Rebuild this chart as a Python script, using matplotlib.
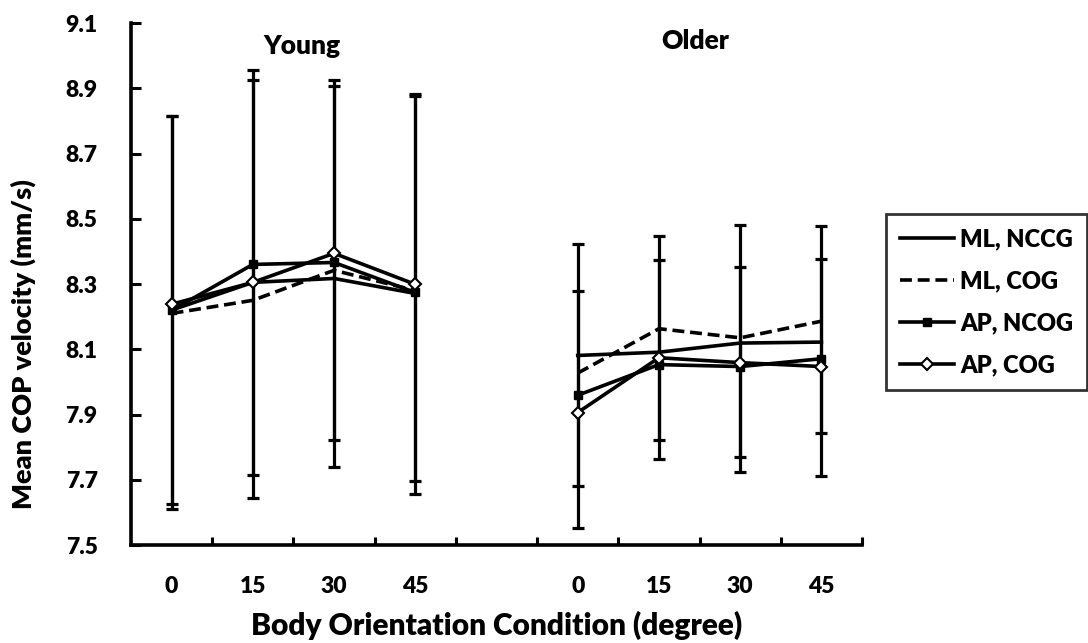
import numpy as np
import matplotlib
matplotlib.use('Agg')
import matplotlib.pyplot as plt
from matplotlib.ticker import FixedLocator, NullFormatter

plt.rcParams['font.family'] = ['Lato', 'DejaVu Sans']
plt.rcParams['font.weight'] = 'bold'
plt.rcParams['axes.labelweight'] = 'bold'

# category slots: young 0-3, gap at 4, older 5-8
angles = ['0', '15', '30', '45']
young_x = np.array([0, 1, 2, 3])
older_x = np.array([5, 6, 7, 8])

# mean COP velocity (mm/s)
ml_ncog_young = np.array([8.22, 8.305, 8.317, 8.271])
ml_cog_young = np.array([8.21, 8.250, 8.342, 8.280])
ap_ncog_young = np.array([8.219, 8.360, 8.366, 8.274])
ap_cog_young = np.array([8.238, 8.305, 8.394, 8.299])

ml_ncog_older = np.array([8.081, 8.091, 8.119, 8.122])
ml_cog_older = np.array([8.027, 8.163, 8.135, 8.186])
ap_ncog_older = np.array([7.959, 8.053, 8.047, 8.071])
ap_cog_older = np.array([7.906, 8.074, 8.059, 8.047])

# error bar ends (mean +/- SD)
ap_ncog_young_hi = np.array([8.815, 8.956, 8.925, 8.881])
ap_ncog_young_lo = np.array([7.609, 7.645, 7.738, 7.655])
ap_cog_young_hi = np.array([8.815, 8.925, 8.907, 8.876])
ap_cog_young_lo = np.array([7.625, 7.716, 7.821, 7.696])

ap_ncog_older_hi = np.array([8.424, 8.448, 8.482, 8.479])
ap_ncog_older_lo = np.array([7.553, 7.764, 7.724, 7.713])
ap_cog_older_hi = np.array([8.278, 8.374, 8.353, 8.377])
ap_cog_older_lo = np.array([7.680, 7.821, 7.770, 7.842])

fig = plt.figure(figsize=(10.88, 6.43), dpi=100)
ax = fig.add_axes([0.1204, 0.1524, 0.6719, 0.8118])

lw = 2.6
err_kw = dict(fmt='none', ecolor='black', elinewidth=2.3, capsize=4, capthick=2.3, zorder=1)

for xs, vals, hi, lo in [(young_x, ap_ncog_young, ap_ncog_young_hi, ap_ncog_young_lo),
                         (young_x, ap_cog_young, ap_cog_young_hi, ap_cog_young_lo),
                         (older_x, ap_ncog_older, ap_ncog_older_hi, ap_ncog_older_lo),
                         (older_x, ap_cog_older, ap_cog_older_hi, ap_cog_older_lo)]:
    ax.errorbar(xs, vals, yerr=[vals - lo, hi - vals], **err_kw)

styles = [
    ('ML, NCCG', ml_ncog_young, ml_ncog_older, dict(ls='-', marker=None)),
    ('ML, COG', ml_cog_young, ml_cog_older, dict(ls=(0, (3.3, 1.6)), marker=None)),
    ('AP, NCOG', ap_ncog_young, ap_ncog_older,
     dict(ls='-', marker='s', ms=6, mfc='black', mec='black')),
    ('AP, COG', ap_cog_young, ap_cog_older,
     dict(ls='-', marker='D', ms=6.5, mfc='white', mec='black', mew=1.5)),
]
for label, yv, ov, kw in styles:
    ax.plot(young_x, yv, color='black', lw=lw, label=label, zorder=3, **kw)
    ax.plot(older_x, ov, color='black', lw=lw, zorder=3, **kw)

ax.set_xlim(-0.5, 8.5)
ax.set_ylim(7.5, 9.1)
ax.set_yticks(np.arange(7.5, 9.11, 0.2))
ax.set_yticklabels(['%.1f' % v for v in np.arange(7.5, 9.11, 0.2)])
ax.set_xticks(np.concatenate([young_x, older_x]))
ax.set_xticklabels(angles + angles)
ax.xaxis.set_minor_locator(FixedLocator(np.arange(0.5, 8.6, 1.0)))
ax.xaxis.set_minor_formatter(NullFormatter())
ax.tick_params(axis='x', which='major', length=0, pad=22, labelsize=16.5)
ax.tick_params(axis='x', which='minor', direction='in', length=6, width=2.2)
ax.tick_params(axis='y', direction='in', length=7, width=2.2, pad=24, labelsize=16.5)
for lbl in ax.get_xticklabels() + ax.get_yticklabels():
    lbl.set_fontweight('heavy')

for side in ['top', 'right']:
    ax.spines[side].set_visible(False)
for side in ['left', 'bottom']:
    ax.spines[side].set_linewidth(2.6)

ax.set_xlabel('Body Orientation Condition (degree)', fontsize=21.5,
              fontweight='heavy', labelpad=10)
ax.set_ylabel('Mean COP velocity (mm/s)', fontsize=19.5, fontweight='heavy')
ax.yaxis.set_label_coords(-0.13, 0.385)

ax.text(1.6, 9.03, 'Young', ha='center', va='center', fontsize=19, fontweight='heavy')
ax.text(6.45, 9.045, 'Older', ha='center', va='center', fontsize=19, fontweight='heavy')

leg = ax.legend(loc='upper left', bbox_to_anchor=(1.0, 0.68), frameon=True,
                fancybox=False, edgecolor='black',
                prop={'size': 17, 'weight': 'heavy'}, handlelength=2.3,
                handletextpad=0.25, labelspacing=0.85, borderpad=0.6,
                borderaxespad=1.0)
leg.get_frame().set_linewidth(2.0)

fig.savefig('out.png', dpi=100)
